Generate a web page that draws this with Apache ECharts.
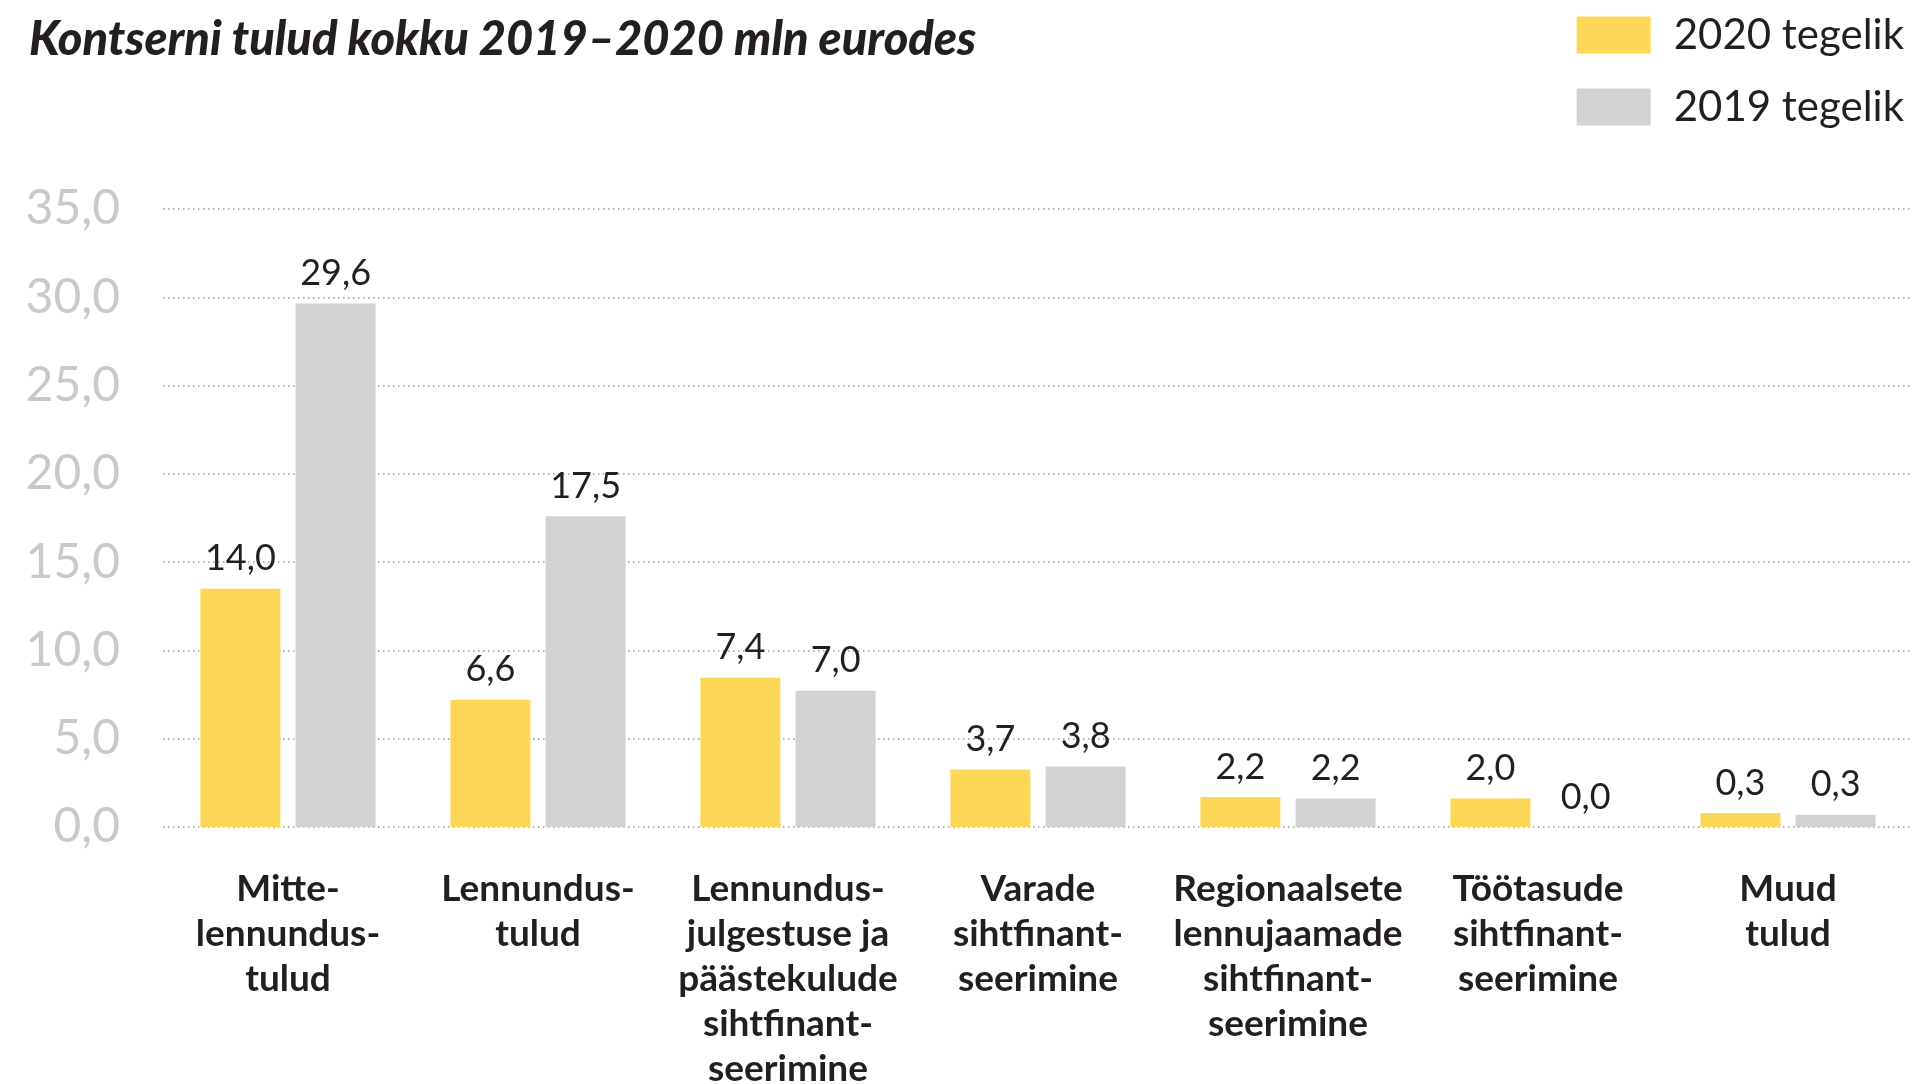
<!DOCTYPE html>
<html>
<head>
<meta charset="utf-8">
<script src="https://cdn.jsdelivr.net/npm/echarts@6/dist/echarts.min.js"></script>
<style>
  html, body { margin: 0; padding: 0; background: #fff; }
  #chart { width: 1916px; height: 1084px; }
</style>
</head>
<body>
<div id="chart"></div>
<script>
// kategooriad (x-telg)
var categories = [
  'Mitte-\nlennundus-\ntulud',
  'Lennundus-\ntulud',
  'Lennundus-\njulgestuse ja\npäästekulude\nsihtfinant-\nseerimine',
  'Varade\nsihtfinant-\nseerimine',
  'Regionaalsete\nlennujaamade\nsihtfinant-\nseerimine',
  'Töötasude\nsihtfinant-\nseerimine',
  'Muud\ntulud'
]
// tulpade kõrgused nagu pildil joonistatud
var values2020 = [13.5, 7.2, 8.45, 3.25, 1.7, 1.62, 0.79]
var values2019 = [29.65, 17.6, 7.72, 3.43, 1.62, 0, 0.70]
// tulpade kohal olevad sildid
var labels2020 = ['14,0', '6,6', '7,4', '3,7', '2,2', '2,0', '0,3']
var labels2019 = ['29,6', '17,5', '7,0', '3,8', '2,2', '0,0', '0,3']
var seriesNames = ['2020 tegelik', '2019 tegelik']

var yellow = '#FDD757'
var grey = '#D1D2D4'
var dark = '#231F20'

var chart = echarts.init(document.getElementById('chart'), null, { renderer: 'canvas' })

function barLabel(labels) {
  return {
    show: true,
    position: 'top',
    distance: 12,
    fontFamily: 'Lato',
    fontSize: 36,
    color: dark,
    formatter: function (p) { return labels[p.dataIndex] }
  }
}

var option = {
  backgroundColor: '#fff',
  animation: false,
  title: {
    text: 'Kontserni tulud kokku 2019–2020 mln eurodes',
    left: 24,
    top: 11,
    textStyle: {
      fontFamily: 'Lato',
      fontStyle: 'italic',
      fontWeight: 900,
      fontSize: 47,
      color: dark
    }
  },
  legend: {
    data: seriesNames,
    orient: 'vertical',
    right: 7,
    top: 9,
    itemWidth: 74,
    itemHeight: 37,
    itemGap: 30,
    icon: 'rect',
    textStyle: { fontFamily: 'Lato', fontSize: 42, color: dark, padding: [0, 0, 0, 18] }
  },
  grid: { left: 163, right: 3, top: 209, bottom: 257, containLabel: false, outerBoundsMode: 'none' },
  xAxis: {
    type: 'category',
    data: categories,
    axisLine: { show: false },
    axisTick: { show: false },
    axisLabel: {
      interval: 0,
      margin: 40,
      fontFamily: 'Lato',
      fontWeight: 'bold',
      fontSize: 37,
      lineHeight: 45,
      color: dark,
      verticalAlign: 'top'
    }
  },
  yAxis: {
    type: 'value',
    min: 0,
    max: 35,
    interval: 5,
    axisLine: { show: false },
    axisTick: { show: false },
    axisLabel: {
      margin: 43,
      fontFamily: 'Lato',
      fontSize: 48,
      color: '#C9C9C9',
      formatter: function (v) { return v.toFixed(1).replace('.', ',') }
    },
    splitLine: {
      lineStyle: { color: '#9B9B9B', width: 1.5, type: [1.5, 3.5] }
    }
  },
  series: [
    {
      name: seriesNames[0],
      type: 'bar',
      data: values2020,
      barWidth: 80,
      barGap: '19%',
      itemStyle: { color: yellow },
      label: barLabel(labels2020)
    },
    {
      name: seriesNames[1],
      type: 'bar',
      data: values2019,
      barWidth: 80,
      itemStyle: { color: grey },
      label: barLabel(labels2019)
    }
  ]
}

chart.setOption(option)
</script>
</body>
</html>
